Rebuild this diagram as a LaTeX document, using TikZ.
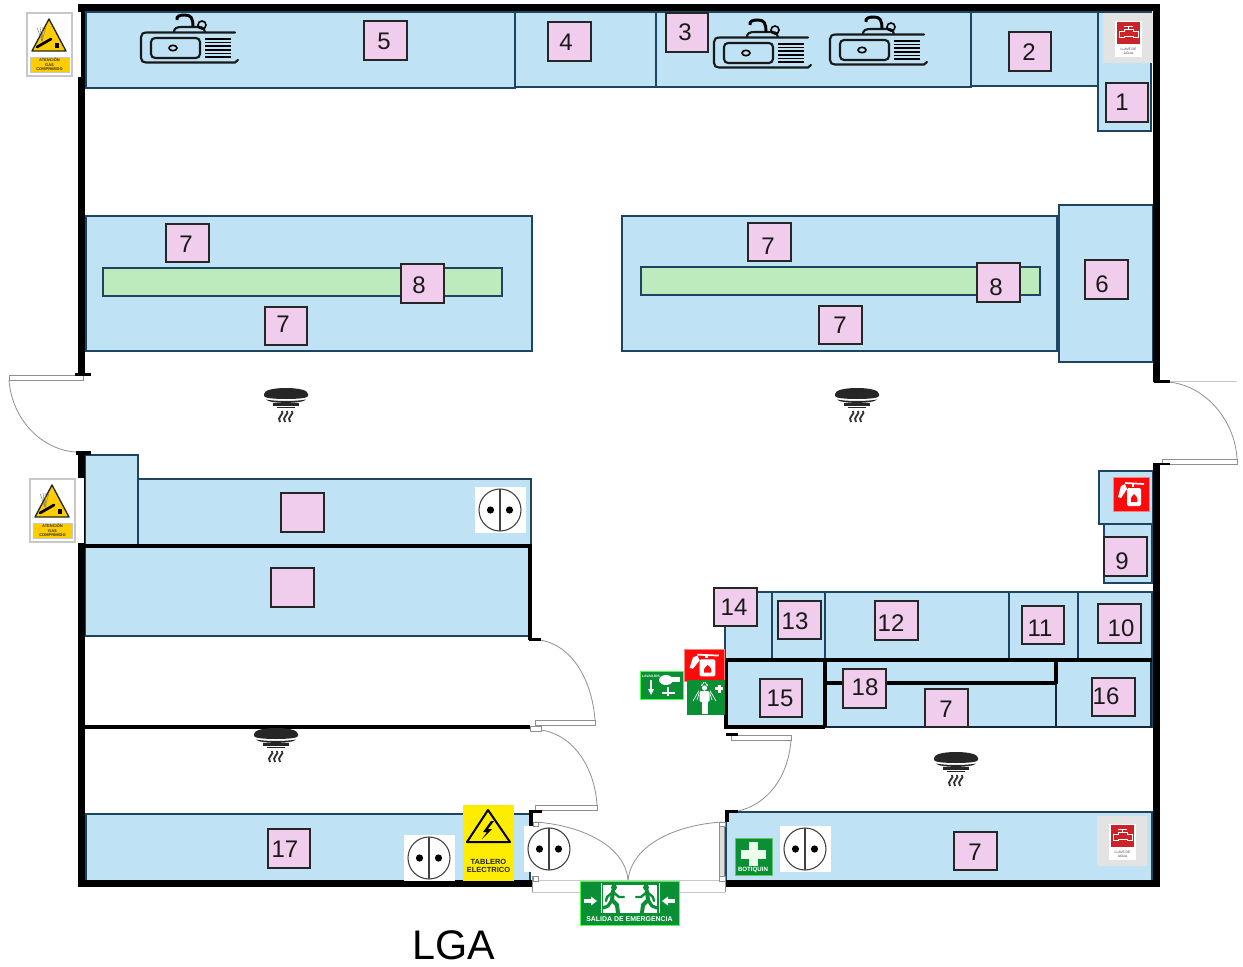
\documentclass[tikz,border=0pt]{standalone}
\usepackage{fontspec}
\setmainfont{Liberation Sans}
\definecolor{bluefill}{HTML}{BFE3F4}
\definecolor{bluedraw}{HTML}{1D4560}
\definecolor{pinkfill}{HTML}{F1CDED}
\definecolor{greenbar}{HTML}{BDEBBD}
\definecolor{signgreen}{HTML}{0A8F34}
\definecolor{signyellow}{HTML}{FFCC00}
\definecolor{framegray}{HTML}{C8C8C8}
\definecolor{bggray}{HTML}{E3E3E3}
\definecolor{valvered}{HTML}{CC2229}
\definecolor{signred}{HTML}{FF0A0A}
\definecolor{doorgray}{HTML}{8F8F8F}
\tikzset{
  blueroom/.style={fill=bluefill,draw=bluedraw,line width=1.2pt},
  greenbench/.style={fill=greenbar,draw=bluedraw,line width=0.9pt},
  wall/.style={fill=black,draw=none},
  thickline/.style={draw=black,line width=2.3pt},
  darkline/.style={draw=bluedraw!60!black,line width=2.2pt},
  numbox/.style={rectangle,fill=pinkfill,draw=black!85,line width=1.5pt,minimum width=32.2pt,minimum height=29.2pt,inner sep=0pt,outer sep=0pt},
  numtext/.style={font=\fontsize{18}{20}\selectfont,text=black!90,inner sep=0pt},
  doorleaf/.style={fill=white,draw=doorgray,line width=0.7pt},
  doorarc/.style={draw=doorgray,line width=0.6pt},
  sinkline/.style={draw=black!90,line width=1.6pt,line cap=round},
  sink/.pic={
    \draw[sinkline] (94,18.5) -- (6,18.5) .. controls (2,18.5) and (0,20) .. (0,23) -- (0,44) .. controls (0,47) and (2,48.5) .. (5,48.5) -- (94,48.5) -- (97,46);
    \draw[sinkline,rounded corners=3pt] (10,24) rectangle (59,44);
    \draw[line width=1.2pt,draw=black] (32,34) ellipse (4 and 2.7);
    \foreach \yy in {25,28.6,32.2,35.8,39.4,43} \draw[draw=black,line width=1.3pt] (64,\yy) -- (90,\yy);
    \draw[sinkline] (33,18) .. controls (33,14) and (36,13) .. (41,13) -- (58,13) .. controls (62,13) and (64,15) .. (64,18);
    \draw[draw=black,line width=2.2pt] (36,6) .. controls (35,2) and (39,1) .. (44,1) .. controls (50,1) and (52,4) .. (52,13);
    \draw[line width=1.2pt,draw=black] (61,11) circle (4);
  },
  detector/.pic={
    \fill[black!85] (-22,-4) .. controls (-22,-8) and (-12,-10) .. (0,-10) .. controls (12,-10) and (22,-8) .. (22,-4) -- (22,-2) .. controls (22,0) and (12,1) .. (0,1) .. controls (-12,1) and (-22,0) .. (-22,-2) -- cycle;
    \fill[black!85] (-20,1.5) .. controls (-10,3.5) and (10,3.5) .. (20,1.5) .. controls (17,6) and (-17,6) .. (-20,1.5) -- cycle;
    \fill[black!85] (-13,5) rectangle (13,8);
    \fill[black!85] (-9,8.7) rectangle (9,10);
    \foreach \xx in {-5,0,5} \draw[draw=black!80,line width=1.4pt] (\xx+1,13) .. controls (\xx+4,16) and (\xx-5,19) .. (\xx-1,24);
  },
  outlet/.pic={
    \fill[white] (-25,-23) rectangle (26,23);
    \draw[draw=black!75,line width=0.8pt] (0,0) circle (21);
    \draw[draw=black!75,line width=0.8pt] (0,-21) -- (0,21);
    \fill[black] (-9.5,0) circle (3.6);
    \fill[black] (9.5,0) circle (3.6);
  },
  gassign/.pic={
    \fill[white] (-3,-1) rectangle (54,64);
    \fill[white,draw=framegray,line width=1.3pt] (0,0) rectangle (45,63);
    \fill[signyellow,draw=black!85,line width=1pt,line join=round] (22,6) -- (39,38) -- (5,38) -- cycle;
    \foreach \aa in {70,82,94,106} \draw[draw=black!55,line width=0.3pt] (15,28) -- ++(\aa:-14);
    \draw[draw=black,line width=2pt,line cap=round] (10,34) -- (24,26);
    \fill[black] (28,35) rectangle (32,30);
    \fill[signyellow,draw=framegray,line width=0.5pt] (3,44) rectangle (42,59);
    \node[font=\fontsize{3}{3.4}\selectfont\bfseries,text=black!80,align=center,inner sep=0pt] at (22.5,51.5) {ATENCIÓN\\GAS\\COMPRIMIDO};
  },
  valve/.pic={
    \fill[bggray] (0,0) rectangle (50,50);
    \fill[white] (12,8) rectangle (39,44);
    \fill[valvered] (14,9) rectangle (37,31);
    \draw[draw=white,line width=0.45pt] (21,13) -- (30,13) (25.5,13) -- (25.5,16.5);
    \draw[draw=white,line width=0.45pt] (16,18) -- (21,18) -- (21,16.5) -- (30,16.5) -- (30,18) -- (35,18) -- (35,24) -- (30,24) -- (30,23) -- (21,23) -- (21,24) -- (16,24) -- cycle;
    \node[font=\fontsize{2.5}{3}\selectfont,text=black!75,align=center,inner sep=0pt] at (25.5,38) {LLAVE DE\\AGUA};
  },
  extinguisher/.pic={
    \fill[signred,draw=red!50!white,line width=0.5pt] (0,0) rectangle (36,34);
    \fill[white,rounded corners=1pt] (14,11) rectangle (28,29);
    \draw[draw=white,line width=1.8pt] (20,10) -- (20,7);
    \draw[draw=white,line width=1.3pt] (12,6) -- (31,7);
    \fill[white] (12,7) -- (8,9) -- (5,20) -- (8,21) -- (14,12) -- cycle;
    \fill[signred] (21,17) .. controls (25,20) and (25,24) .. (24,25) -- (18,25) .. controls (17,23) and (18,20) .. (21,17) -- cycle;
  },
  walker/.pic={
    \fill[signgreen] (0,-5.5) circle (3);
    \draw[draw=signgreen,line width=3pt,line cap=round] (-1,-2) -- (-2,7) -- (3,12) -- (4,20);
    \draw[draw=signgreen,line width=2.4pt,line cap=round] (-2,7) -- (-6,13) -- (-11,15);
    \draw[draw=signgreen,line width=1.8pt,line cap=round] (-1,-1) -- (5,4) -- (10,4);
    \draw[draw=signgreen,line width=1.8pt,line cap=round] (-1,-1) -- (-7,4) -- (-8,8);
  }
}
\newcommand{\numb}[6]{%
  \node[numbox] (box#1) at (#2,#3) {};
  \node[numtext] (txt#1) at (#4,#5) {#6};}
\begin{document}
\begin{tikzpicture}[x=0.75pt,y=-0.75pt]
\useasboundingbox (0,0) rectangle (1243,967);
% rooms and benches
\path[blueroom] (86,12) rectangle (515,88);
\path[blueroom] (515,12) rectangle (656,87);
\path[blueroom] (656,12) rectangle (971,87);
\path[blueroom] (971,12) rectangle (1098,86);
\path[blueroom] (1098,12) rectangle (1151,131);
\path[blueroom] (86,216) rectangle (532,351);
\path[greenbench] (103,268) rectangle (502,296);
\path[blueroom] (622,216) rectangle (1057,351);
\path[greenbench] (641,267) rectangle (1040,295);
\path[blueroom] (1059,205) rectangle (1153,362);
\path[blueroom] (85,479) rectangle (531,546);
\path[blueroom] (85,455) rectangle (138,546);
\path[blueroom] (85,546) rectangle (529,636);
\path[blueroom] (86,814) rectangle (530,881);
\path[blueroom] (725,592) rectangle (772,660);
\path[blueroom] (772,592) rectangle (825,660);
\path[blueroom] (825,592) rectangle (1009,660);
\path[blueroom] (1009,592) rectangle (1078,660);
\path[blueroom] (1078,592) rectangle (1152,660);
\path[blueroom] (726,660) rectangle (825,727);
\path[blueroom] (825,660) rectangle (1056,684);
\path[blueroom] (825,684) rectangle (1056,727);
\path[blueroom] (1056,660) rectangle (1152,727);
\path[blueroom] (726,812) rectangle (1152,881);
\path[blueroom] (1104,524) rectangle (1152,583);
\path[blueroom] (1099,471) rectangle (1153,524);
% outer walls
\path[wall] (78,4) rectangle (1160,11);
\path[wall] (78,4) rectangle (85,375);
\path[wall] (78,452) rectangle (85,887);
\path[wall] (78,880) rectangle (532,887);
\path[wall] (725,880) rectangle (1160,887);
\path[wall] (1153,4) rectangle (1160,382);
\path[wall] (1153,463) rectangle (1160,887);
% inner lines
\draw[darkline] (825,727) -- (1152,727);
\draw[darkline] (1056,684) -- (1056,727);
\draw[darkline] (1151,660) -- (1151,727);
\draw[thickline] (85,546) -- (530,546) -- (530,640);
\draw[thickline] (85,727) -- (530,727);
\draw[thickline] (726,660) -- (1152,660);
\draw[thickline] (825,683) -- (1056,683);
\draw[thickline] (825,660) -- (825,727);
\draw[thickline] (726,660) -- (726,727) -- (825,727);
\draw[thickline] (1056,660) -- (1056,684);
% doors
\draw[doorleaf] (9,375) rectangle (83,380);
\draw[doorarc] (9,380) .. controls (12,420) and (42,450) .. (76,452);
\path[wall] (75,373) rectangle (91,376);
\path[wall] (76,451) rectangle (91,455);
\draw[doorleaf] (1162,459) rectangle (1237,464);
\draw[doorarc] (1237,459) .. controls (1235,420) and (1205,385) .. (1168,382);
\draw[draw=framegray,line width=0.4pt] (1168,381) -- (1237,381);
\path[wall] (1154,380) rectangle (1170,383);
\path[wall] (1154,463) rectangle (1170,465);
\draw[doorleaf] (535,720) rectangle (595,725);
\draw[doorarc] (540,640) .. controls (572,645) and (592,680) .. (595,720);
\path[wall] (529,638) rectangle (541,641);
\draw[doorleaf] (535,805) rectangle (597,810);
\draw[doorarc] (541,730) .. controls (575,735) and (595,770) .. (597,805);
\draw[doorleaf] (530,726) rectangle (541,731);
\path[wall] (529,810) rectangle (542,813);
\path[wall] (529,810) rectangle (533,826);
\draw[doorleaf] (731,735) rectangle (791,740);
\draw[doorarc] (791,740) .. controls (788,780) and (765,805) .. (738,811);
\path[wall] (726,733) rectangle (738,736);
\path[wall] (725,810) rectangle (738,813);
\path[wall] (725,810) rectangle (729,822);
% sinks
\pic (sinkA) at (141,14) {sink};
\pic (sinkB) at (714,19) {sink};
\pic (sinkC) at (830,16) {sink};
% numbered boxes
\numb{a}{1127}{102.5}{1122}{102}{1}
\numb{b}{1030}{51.5}{1029}{52}{2}
\numb{c}{687}{32.5}{685}{32}{3}
\numb{d}{569.5}{41.5}{566}{42}{4}
\numb{e}{385.5}{40.5}{384}{41}{5}
\numb{f}{1106.5}{279.5}{1102}{284}{6}
\numb{g}{187.5}{243}{186}{244}{7}
\numb{h}{769.5}{242}{768}{246}{7}
\numb{i}{286}{326}{283}{324}{7}
\numb{j}{840.5}{325}{840}{325}{7}
\numb{k}{422.5}{283.5}{419}{285}{8}
\numb{l}{998.5}{282.5}{996}{287}{8}
\numb{m}{1125.5}{556.5}{1122}{561}{9}
\numb{n}{1119.5}{623.5}{1121}{628}{10}
\numb{o}{1043}{625}{1040}{628}{11}
\numb{p}{896.5}{620.5}{891}{623}{12}
\numb{q}{799.5}{620}{795}{621}{13}
\numb{r}{735.5}{607}{734}{607}{14}
\numb{s}{781}{698}{780}{698}{15}
\numb{t}{1113.5}{697}{1106}{696}{16}
\numb{u}{289}{848.5}{285}{849}{17}
\numb{v}{864.5}{688.5}{865}{687}{18}
\numb{w}{946.5}{708}{946}{709}{7}
\numb{x}{975.5}{851}{975}{852}{7}
\node[numbox] (blankA) at (302.5,512.5) {};
\node[numbox] (blankB) at (292.5,587.5) {};
% detectors
\pic (detA) at (286,398) {detector};
\pic (detB) at (857,398) {detector};
\pic (detC) at (276,738) {detector};
\pic (detD) at (956,762) {detector};
% outlets
\pic (outA) at (500,510) {outlet};
\pic (outB) at (429,858) {outlet};
\pic (outC) at (549,849) {outlet};
\pic (outD) at (805,849) {outlet};
% double door
\draw[doorarc] (535,822) .. controls (580,825) and (625,845) .. (628,880);
\draw[doorarc] (722,822) .. controls (675,825) and (632,845) .. (628,880);
\draw[draw=framegray,line width=0.7pt] (532,880) -- (725,880) (532,892) -- (725,892);
\draw[doorarc] (532,876) -- (532,892) (725,880) -- (725,892);
\draw[fill=framegray!60,draw=doorgray,line width=0.4pt] (719,822) rectangle (724,880);
\draw[fill=white,draw=doorgray,line width=0.5pt] (719,822) rectangle (725,826);
\draw[fill=white,draw=doorgray,line width=0.5pt] (719,876) rectangle (725,881);
\draw[fill=white,draw=doorgray,line width=0.5pt] (533,822) rectangle (538,826);
\draw[fill=white,draw=doorgray,line width=0.5pt] (533,876) rectangle (538,881);
% warning signs
\pic (gasA) at (27,13) {gassign};
\pic (gasB) at (30,479) {gassign};
\pic (valveA) at (1103,13) {valve};
\pic (valveB) at (1097,816) {valve};
\pic (extA) at (1113,477) {extinguisher};
\pic[scale=1.12,yscale=0.84] (extB) at (684,649) {extinguisher};
% electrical board
\fill[yellow!95!orange] (463,805) rectangle (514,881);
\draw[draw=black,fill=none,line width=1.5pt,line join=round] (488,810) -- (510,842) -- (467,842) -- cycle;
\fill[black] (491,821) -- (483,832) -- (487,832) -- (482,839) -- (492,829) -- (488,829) -- (494,821) -- cycle;
\node[font=\fontsize{5.6}{6}\selectfont\bfseries,text=black!85,align=center,inner sep=0pt] (board) at (488.5,866) {TABLERO\\ELECTRICO};
% first aid
\fill[signgreen,draw=green!60!black!60!white,line width=0.6pt] (735,838) rectangle (772,875);
\fill[white!92!green] (749,842) rectangle (758,866);
\fill[white!92!green] (741,850) rectangle (766,859);
\node[font=\fontsize{4.6}{5}\selectfont\bfseries,text=white,inner sep=0pt] (kit) at (753,869.5) {BOTIQUIN};
% eye wash
\fill[signgreen,draw=green!70!white,line width=0.4pt] (640,671) rectangle (683,699);
\node[font=\fontsize{2.5}{3}\selectfont\bfseries,text=white,inner sep=0pt] (eye) at (651,676.5) {LAVAOJOS};
\fill[white] (666,680) ellipse (7 and 5);
\fill[white] (670,677) rectangle (680,682);
\draw[draw=white,line width=1pt] (651,680) -- (651,693);
\fill[white] (648,689) -- (654,689) -- (651,695) -- cycle;
\draw[draw=white,line width=1pt] (662,693) -- (675,693) (668,687) -- (668,696);
% shower
\fill[signgreen] (687,680) rectangle (725,715);
\draw[draw=white,line width=0.5pt] (704,682) -- (693,701) (705,682) -- (716,701) (702,684) -- (697,700) (707,684) -- (712,700);
\fill[signgreen] (699,686) rectangle (710,698);
\fill[white] (701.5,700) rectangle (707.5,714);
\fill[white,rounded corners=1pt] (699.5,691) rectangle (709.5,702);
\fill[white] (704.5,688) circle (2.6);
\fill[white] (715,687) rectangle (723,690);
\fill[white] (717.5,684.5) rectangle (720.5,692.5);
% exit sign
\fill[signgreen,draw=green!70!white,line width=0.4pt] (580,881) rectangle (679,925);
\fill[white] (603,885) rectangle (657,913);
\draw[draw=white,line width=0.4pt] (601,883) -- (601,913) (659,883) -- (659,913);
\pic (manL) at (614,893) {walker};
\pic[xscale=-1] (manR) at (646,893) {walker};
\fill[white] (584,899) rectangle (591,903);
\fill[white] (591,896.5) -- (597,901) -- (591,905.5) -- cycle;
\fill[white] (668,899) rectangle (675,903);
\fill[white] (668,896.5) -- (662,901) -- (668,905.5) -- cycle;
\node[font=\fontsize{5.2}{5.2}\selectfont\bfseries,text=white,inner sep=0pt] (exit) at (629.5,919.5) {SALIDA DE EMERGENCIA};
% title
\node[font=\fontsize{31}{33}\selectfont,text=black,inner sep=0pt] (title) at (453.5,945.5) {LGA};
\end{tikzpicture}
\end{document}
